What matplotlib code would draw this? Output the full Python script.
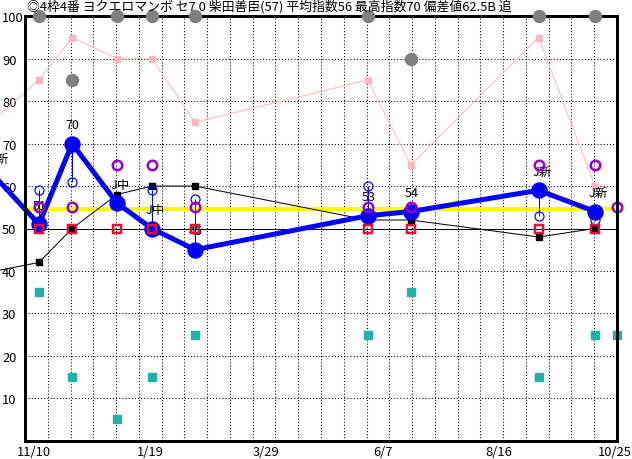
import matplotlib
matplotlib.use('Agg')
import matplotlib.pyplot as plt
import numpy as np

plt.rcParams['font.family'] = ['Noto Sans CJK JP', 'DejaVu Sans']

title = "◎4枠4番 ヨクエロマンボ セ7 0 柴田善臣(57) 平均指数56 最高指数70 偏差値62.5B 追"

# race positions (days from 11/10)
days = [-23, 3, 23, 50, 71, 97, 201, 227, 304, 338, 351]
index_vals = [62, 51, 70, 56, 50, 45, 53, 54, 59, 54, np.nan]
pink_vals = [76, 85, 95, 90, 90, 75, 85, 65, 95, 60, np.nan]
black_vals = [40, 42, 50, 58, 60, 60, 52, 52, 48, 50, np.nan]
red_vals = [np.nan, 50, 50, 50, 50, 50, 50, 50, 50, 50, np.nan]
purple_vals = [np.nan, 55, 55, 65, 65, 55, 55, 55, 65, 65, 55]
teal_vals = [np.nan, 35, 15, 5, 15, 25, 25, 35, 15, 25, 25]
gray_vals = [np.nan, 100, 85, 100, 100, 100, 100, 90, 100, 100, np.nan]
sub_vals = [np.nan, 59, 61, np.nan, 59, 57, 60, np.nan, 53, 52, np.nan]
point_labels = ["J新", "51", "70", "J中", "J中", "45", "53", "54", "J新", "J新", ""]

avg_line = 54.5
base_line = 50

xtick_days = [0, 70, 140, 210, 280, 350]
xtick_labels = ["11/10", "1/19", "3/29", "6/7", "8/16", "10/25"]
yticks = [10, 20, 30, 40, 50, 60, 70, 80, 90, 100]

PX = 0.72  # points per pixel at dpi 100

fig = plt.figure(figsize=(6.32, 4.60), dpi=100)
ax = fig.add_axes([25 / 632, (460 - 441.7) / 460, (617 - 25) / 632, (441.7 - 17.3) / 460])
xmin, xmax = -5.4, 351.2
ax.set_xlim(xmin, xmax)
ax.set_ylim(0, 100)

# grid
for gx in np.linspace(xmin, xmax, 27)[1:-1]:
    ax.axvline(gx, color='black', lw=0.75, ls=(0, (1, 2)), zorder=1)
for gy in yticks[:-1]:
    ax.axhline(gy, color='black', lw=0.75, ls=(0, (1, 2)), zorder=1)

ax.axhline(base_line, color='black', lw=1 * PX, zorder=2)
ax.axhline(avg_line, color='#FFFF00', lw=4 * PX, zorder=2)

d = np.array(days, dtype=float)
visible = list(range(1, len(days)))
ax.plot(d, pink_vals, color='#FFB6C1', lw=1 * PX, marker='s', ms=6 * PX,
        mec='#FFB6C1', mfc='#FFB6C1', markevery=visible, zorder=3, clip_on=False)
ax.plot(d, black_vals, color='black', lw=1 * PX, marker='s', ms=6 * PX,
        markevery=visible, zorder=3, clip_on=False)

for x, y, t in zip(d, index_vals, point_labels):
    if t and not np.isnan(y):
        ax.annotate(t, (x, y), xytext=(-6.5 * PX, 19 * PX), textcoords='offset points',
                    ha='left', va='center', fontsize=9, zorder=4, annotation_clip=False)

ax.plot(d, index_vals, color='#0000FF', lw=5 * PX, marker='o', ms=15 * PX,
        markevery=visible, zorder=5, clip_on=False)

sub = np.array(sub_vals, dtype=float)
idx = np.array(index_vals, dtype=float)
m = ~np.isnan(sub) & ~np.isnan(idx)
ax.vlines(d[m], idx[m], sub[m], color='#0000FF', lw=1 * PX, zorder=6)
ax.plot(d[m], sub[m], ls='none', marker='o', ms=9 * PX, mfc='none', mec='#0000FF',
        mew=1.2 * PX, zorder=6)

ax.plot(d, purple_vals, ls='none', marker='o', ms=9.5 * PX, mfc='none', mec='#9900CC',
        mew=2.5 * PX, zorder=7, clip_on=False)
ax.plot(d, red_vals, ls='none', marker='s', ms=8.5 * PX, mfc='none', mec='#DC143C',
        mew=2.5 * PX, zorder=8, clip_on=False)
ax.plot(d, teal_vals, ls='none', marker='s', ms=8 * PX, color='#20B2AA',
        zorder=8, clip_on=False)
ax.plot(d, gray_vals, ls='none', marker='o', ms=12 * PX, color='#808080',
        zorder=9, clip_on=False)

for s in ax.spines.values():
    s.set_linewidth(3 * PX)
    s.set_zorder(8.5)

ax.set_xticks(xtick_days)
ax.set_xticklabels(xtick_labels, fontsize=9.3)
ax.set_yticks(yticks)
ax.set_yticklabels([str(v) for v in yticks], fontsize=9.3, ha='left')
ax.tick_params(axis='y', length=0, pad=23 * PX)
ax.tick_params(axis='x', length=0, pad=4 * PX)

fig.text(27 / 632, 1 - 7 / 460, title, fontsize=9.3, ha='left', va='center')

fig.savefig('out.png', dpi=100)
